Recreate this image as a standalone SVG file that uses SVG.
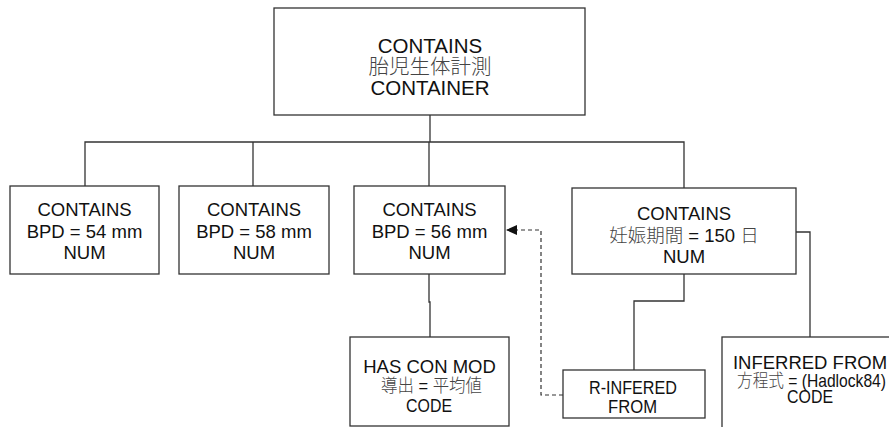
<svg xmlns="http://www.w3.org/2000/svg" width="889" height="427" viewBox="0 0 889 427">
<defs>
<style>
.box{fill:#fff;stroke:#333;stroke-width:1.3}
.ln{fill:none;stroke:#333;stroke-width:1.3}
.dash{fill:none;stroke:#333;stroke-width:1.2;stroke-dasharray:4,3}
text{font-family:"Liberation Sans","Noto Sans CJK JP",Arial,sans-serif;font-size:18.5px;fill:#111;text-anchor:middle}
.big{font-size:20.5px}
.cjk{font-family:"Noto Sans CJK JP","Liberation Sans",sans-serif;fill:#444;font-weight:300}
</style>
<marker id="arr" markerWidth="12" markerHeight="10" refX="11" refY="5" orient="auto" markerUnits="userSpaceOnUse">
<path d="M0,0 L11,5 L0,10 Z" fill="#111"/>
</marker>
</defs>
<rect width="889" height="427" fill="#fff"/>
<g id="connectors">
<path class="ln" d="M430,115 V142"/>
<path class="ln" d="M85,186 V142 H684 V188"/>
<path class="ln" d="M253,142 V186"/>
<path class="ln" d="M429,142 V186"/>
<path class="ln" d="M429,274 V302 H430 V337"/>
<path class="ln" d="M684,274 V301 H634 V370"/>
<path class="ln" d="M796,232 H810 V337"/>
<path class="dash" d="M563,395 H541 V230 H506" marker-end="url(#arr)"/>
</g>
<g id="n-root">
<rect class="box" x="274" y="8" width="311" height="107"/>
<text class="big" x="430" y="53">CONTAINS</text>
<text class="big cjk" x="430" y="74">胎児生体計測</text>
<text class="big" x="430" y="95">CONTAINER</text>
</g>
<g id="n-bpd54">
<rect class="box" x="10" y="186" width="149" height="88"/>
<text x="84.5" y="216">CONTAINS</text>
<text x="84.5" y="237.7">BPD = 54 mm</text>
<text x="84.5" y="259.3">NUM</text>
</g>
<g id="n-bpd58">
<rect class="box" x="179" y="186" width="150" height="88"/>
<text x="254" y="216">CONTAINS</text>
<text x="254" y="237.7">BPD = 58 mm</text>
<text x="254" y="259.3">NUM</text>
</g>
<g id="n-bpd56">
<rect class="box" x="354" y="186" width="151" height="88"/>
<text x="429.5" y="216">CONTAINS</text>
<text x="429.5" y="237.7">BPD = 56 mm</text>
<text x="429.5" y="259.3">NUM</text>
</g>
<g id="n-ga">
<rect class="box" x="572" y="188" width="224" height="86"/>
<text x="684" y="220">CONTAINS</text>
<text x="684" y="241.7"><tspan class="cjk">妊娠期間</tspan>  = 150 <tspan class="cjk">日</tspan></text>
<text x="684" y="262.7">NUM</text>
</g>
<g id="n-mod">
<rect class="box" x="350" y="337" width="159" height="89"/>
<text x="429.5" y="373">HAS CON MOD</text>
<text x="431.5" y="392" textLength="101" lengthAdjust="spacingAndGlyphs"><tspan class="cjk">導出</tspan> = <tspan class="cjk">平均値</tspan></text>
<text x="429" y="412" textLength="46" lengthAdjust="spacingAndGlyphs">CODE</text>
</g>
<g id="n-rinf">
<rect class="box" x="563" y="370" width="142" height="48"/>
<text x="633" y="394" textLength="88" lengthAdjust="spacingAndGlyphs">R-INFERED</text>
<text x="632.5" y="413" textLength="49" lengthAdjust="spacingAndGlyphs">FROM</text>
</g>
<g id="n-inf">
<rect class="box" x="722" y="337" width="176" height="100"/>
<text x="810" y="369">INFERRED FROM</text>
<text x="811.5" y="386.5" textLength="149" lengthAdjust="spacingAndGlyphs"><tspan class="cjk">方程式</tspan> = (Hadlock84)</text>
<text x="810" y="403" textLength="46" lengthAdjust="spacingAndGlyphs">CODE</text>
</g>
</svg>
